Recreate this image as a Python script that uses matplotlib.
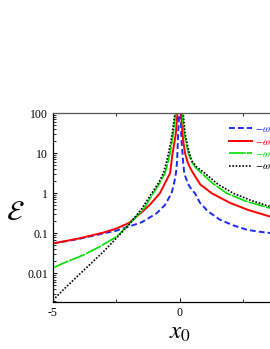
import matplotlib
matplotlib.use("Agg")
import matplotlib.pyplot as plt
from matplotlib.ticker import LogLocator, NullFormatter

# values (E on log scale)
x_blue = [-5, -4, -3, -2.5, -2, -1.5, -0.92, -0.6, -0.33, -0.23, -0.16, -0.12, -0.1, -0.085, -0.07,
          -0.05, -0.03, 0,
          0.03, 0.05, 0.07, 0.1, 0.13, 0.17, 0.25, 0.35, 0.45, 0.59, 0.79, 1.1, 1.57, 2.1, 2.63,
          3.1, 3.54, 4.2, 5]
e_blue = [0.056, 0.072, 0.1, 0.117, 0.148, 0.19, 0.316, 0.5, 1.0, 1.78, 3.16, 5.6, 10, 17.8, 31.6,
          56, 100, 1000,
          100, 31.6, 17.8, 10, 5.6, 3.16, 2.24, 1.58, 1.26, 1.0, 0.575, 0.355, 0.219, 0.158, 0.123,
          0.11, 0.102, 0.093, 0.085]

x_red = [-5, -4, -3, -2.5, -2, -1.5, -1.18, -0.79, -0.55, -0.39, -0.34, -0.29, -0.22, -0.16,
         -0.13, -0.1, 0,
         0.05, 0.07, 0.1, 0.14, 0.2, 0.3, 0.4, 0.52, 0.8, 1.25, 1.97, 2.7, 3.54, 4.3, 5]
e_red = [0.056, 0.074, 0.105, 0.132, 0.182, 0.34, 0.52, 1.0, 2.0, 3.16, 5.6, 10, 17.8, 31.6,
         56, 100, 1000,
         100, 56, 31.6, 17.8, 10, 6.0, 4.3, 3.16, 1.66, 1.0, 0.575, 0.38, 0.263, 0.204, 0.166]

x_green = [-5, -4.46, -3.8, -3.15, -2.49, -1.97, -1.44, -1.05, -0.8, -0.59, -0.48, -0.39, -0.32,
           -0.26, -0.21, -0.17, 0,
           0.1, 0.13, 0.17, 0.24, 0.33, 0.45, 0.6, 0.85, 1.3, 1.84, 2.6, 3.54, 4.3, 5]
e_green = [0.0138, 0.0195, 0.0288, 0.0468, 0.083, 0.178, 0.40, 1.0, 1.78, 3.16, 5.6, 10, 17.8,
           31.6, 56, 100, 1000,
           100, 56, 31.6, 17.8, 10, 6.3, 4.5, 3.16, 1.74, 1.0, 0.63, 0.427, 0.331, 0.275]

x_black = [-5, -4.5, -4, -3.5, -3, -2.5, -1.97, -1.5, -1.11, -0.85, -0.65, -0.54, -0.45, -0.37,
           -0.3, -0.25, -0.2, 0,
           0.13, 0.16, 0.2, 0.28, 0.37, 0.48, 0.65, 0.98, 1.5, 2.1, 2.8, 3.54, 4.3, 5]
e_black = [0.00214, 0.00447, 0.0089, 0.0178, 0.0355, 0.076, 0.174, 0.417, 1.0, 1.78, 3.16, 5.6,
           10, 17.8, 31.6, 56, 100, 1000,
           100, 56, 31.6, 17.8, 10, 6.3, 4.6, 3.16, 1.66, 1.0, 0.66, 0.468, 0.355, 0.288]

labels = [r"$-\omega$", r"$-\omega$", r"$-\omega$", r"$-\omega$"]
yticks = [0.01, 0.1, 1, 10, 100]
ytick_labels = ["0.01", "0.1", "1", "10", "100"]

plt.rcParams["mathtext.fontset"] = "stix"
plt.rcParams["font.family"] = "Liberation Serif"

fig = plt.figure(figsize=(2.70, 3.49), dpi=100)
# axes run off the right edge, as in the reference
ax = fig.add_axes([0.196, 0.135, 0.941, 0.541])

ax.plot(x_blue, e_blue, color="#1a2cf0", lw=1.4, ls=(0, (3, 1.6)), label=labels[0])
ax.plot(x_red, e_red, color="#ff0000", lw=1.4, label=labels[1])
ax.plot(x_green, e_green, color="#00e000", lw=1.2, ls=(0, (10, 0.8)), label=labels[2])
ax.plot(x_black, e_black, color="black", lw=1.2, ls=(0, (1, 1)), label=labels[3])

ax.set_yscale("log")
ax.set_xlim(-5, 5)
ax.set_ylim(0.00195, 100)
ax.set_yticks(yticks)
ax.set_yticklabels(ytick_labels)
ax.yaxis.set_minor_locator(LogLocator(base=10, subs=range(2, 10), numticks=20))
ax.yaxis.set_minor_formatter(NullFormatter())
ax.set_xticks([-5, 0])
ax.set_xticklabels(["-5", "0"])
ax.set_xticks([-2.5, 2.5, 5], minor=True)

ax.tick_params(which="both", direction="in", top=True, right=True, labelsize=8.5)
ax.tick_params(which="major", length=3, width=0.7)
ax.tick_params(which="minor", length=2.5, width=0.6)
for s in ax.spines.values():
    s.set_linewidth(0.9)
ax.spines["top"].set_color("#555555")

ax.set_xlabel(r"$x_0$", fontsize=18, labelpad=2)
ax.set_ylabel(r"$\mathcal{E}$", fontsize=20, rotation=0, va="center")
ax.yaxis.set_label_coords(-0.148, 0.47)

leg = ax.legend(loc="upper left", bbox_to_anchor=(0.678, 0.96), frameon=False,
                fontsize=7.5, handlelength=2.2, handletextpad=0.3, labelspacing=0.3,
                borderaxespad=0)
for txt, line in zip(leg.get_texts(), leg.get_lines()):
    txt.set_color(line.get_color())

fig.savefig("out.png", dpi=100)
